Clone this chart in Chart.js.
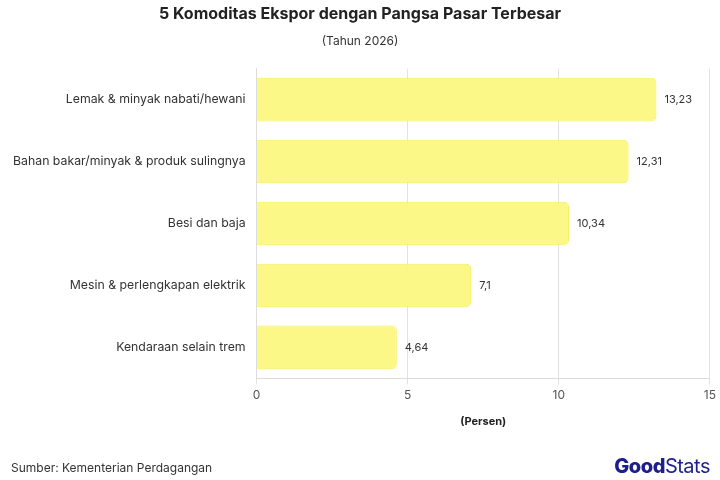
<!DOCTYPE html>
<html>
<head>
<meta charset="utf-8">
<script src="https://cdn.jsdelivr.net/npm/chart.js@4/dist/chart.umd.min.js"></script>
<style>
  html, body { margin: 0; padding: 0; background: #fff; }
  #wrap { position: relative; width: 720px; height: 480px; }
  #source { position: absolute; left: 11px; top: 460px; font: 12px Inter, sans-serif; color: #333; }
  #logo { position: absolute; right: 10px; top: 454px; font: 20px Inter, sans-serif; color: #1d1f8a; letter-spacing: -0.5px; }
  #logo b { font-weight: 800; }
</style>
</head>
<body>
<div id="wrap">
  <canvas id="chart" width="720" height="480"></canvas>
  <div id="source">Sumber: Kementerian Perdagangan</div>
  <div id="logo"><b>Good</b>Stats</div>
</div>
<script>
  var categories = [
    'Lemak & minyak nabati/hewani',
    'Bahan bakar/minyak & produk sulingnya',
    'Besi dan baja',
    'Mesin & perlengkapan elektrik',
    'Kendaraan selain trem'
  ];
  var values = [13.23, 12.31, 10.34, 7.1, 4.64];
  var xTicks = [0, 5, 10, 15];

  var FONT = 'Inter, sans-serif';

  // value labels at the end of each bar
  var barLabels = {
    id: 'barLabels',
    afterDatasetsDraw: function (chart) {
      var ctx = chart.ctx;
      var meta = chart.getDatasetMeta(0);
      ctx.save();
      ctx.font = '11px ' + FONT;
      ctx.fillStyle = '#333';
      ctx.textAlign = 'left';
      ctx.textBaseline = 'middle';
      meta.data.forEach(function (bar, i) {
        ctx.fillText(String(values[i]).replace('.', ','), bar.x + 8, bar.y);
      });
      ctx.restore();
    }
  };

  new Chart(document.getElementById('chart').getContext('2d'), {
    type: 'bar',
    data: {
      labels: categories,
      datasets: [{
        data: values,
        backgroundColor: 'rgba(252, 248, 130, 0.95)',
        borderColor: '#f7ef5c',
        borderWidth: 1,
        borderRadius: 5,
        borderSkipped: 'start',
        barPercentage: 0.88,
        categoryPercentage: 0.8
      }]
    },
    plugins: [barLabels],
    options: {
      indexAxis: 'y',
      responsive: false,
      animation: false,
      layout: { padding: { left: 10, right: 10, top: 0, bottom: 48 } },
      plugins: {
        legend: { display: false },
        tooltip: { enabled: false },
        title: {
          display: true,
          text: '5 Komoditas Ekspor dengan Pangsa Pasar Terbesar',
          color: '#222',
          font: { family: FONT, size: 16, weight: 'bold' },
          padding: { top: 5, bottom: 10 }
        },
        subtitle: {
          display: true,
          text: '(Tahun 2026)',
          color: '#333',
          font: { family: FONT, size: 12 },
          padding: { top: 0, bottom: 20 }
        }
      },
      scales: {
        x: {
          min: 0,
          max: 15,
          afterBuildTicks: function (axis) {
            axis.ticks = xTicks.map(function (v) { return { value: v }; });
          },
          grid: { color: '#e2e2e2', drawTicks: true, tickLength: 6 },
          border: { color: '#dcdcdc' },
          ticks: { color: '#555', font: { family: FONT, size: 12 }, padding: 4 },
          title: {
            display: true,
            text: '(Persen)',
            color: '#222',
            font: { family: FONT, size: 11, weight: 'bold' },
            padding: { top: 8 }
          }
        },
        y: {
          grid: { display: false },
          border: { color: '#dcdcdc' },
          ticks: { color: '#333', font: { family: FONT, size: 12.3 }, padding: 3 }
        }
      }
    }
  });
</script>
</body>
</html>
